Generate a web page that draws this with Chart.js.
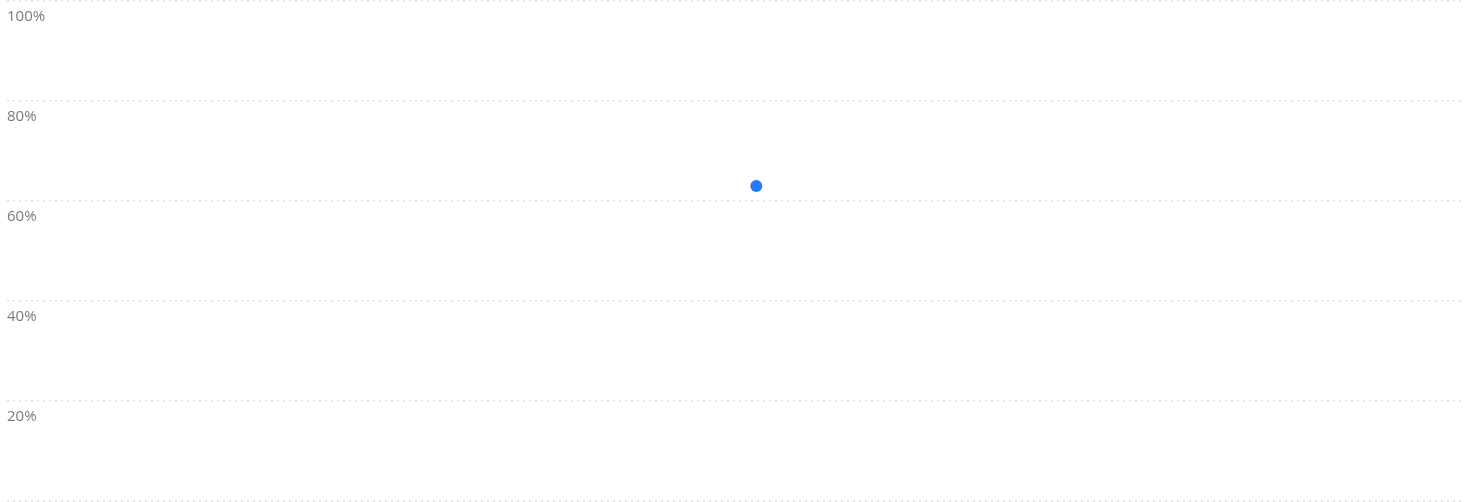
<!DOCTYPE html>
<html>
<head>
<meta charset="utf-8">
<script src="https://cdn.jsdelivr.net/npm/chart.js@4"></script>
<style>
  html, body { margin: 0; padding: 0; background: #fff; }
  #wrap { width: 1471px; height: 502px; }
</style>
</head>
<body>
<div id="wrap"><canvas id="chart"></canvas></div>
<script>
// 36 periods, only one has a value
var periods = [];
for (var i = 1; i <= 36; i++) periods.push("P" + i);
var rates = [
  null, null, null, null, null, null, null, null, null, null, null, null,
  null, null, null, null, null, null, 63, null, null, null, null, null,
  null, null, null, null, null, null, null, null, null, null, null, null
];
var yTicks = [0, 20, 40, 60, 80, 100];

var ctx = document.getElementById("chart").getContext("2d");
var chart = new Chart(ctx, {
  type: "line",
  data: {
    labels: periods,
    datasets: [
      {
        label: "Rate",
        data: rates,
        borderColor: "#2979ff",
        backgroundColor: "#2979ff",
        pointRadius: 6,
        pointBorderWidth: 0,
        borderWidth: 2,
      },
    ],
  },
  options: {
    responsive: true,
    maintainAspectRatio: false,
    animation: false,
    layout: { autoPadding: false, padding: { left: 7, right: 7, top: 1, bottom: 1 } },
    plugins: { legend: { display: false }, tooltip: { enabled: false } },
    scales: {
      x: { display: false },
      y: {
        min: yTicks[0],
        max: yTicks[yTicks.length - 1],
        border: { display: false, dash: [2, 4] },
        grid: {
          color: "#e6e6e6",
          drawTicks: false,
          lineWidth: 2,
        },
        ticks: {
          stepSize: 20,
          mirror: true,
          padding: 0,
          labelOffset: 16,
          color: "#7a7a7a",
          font: { family: "'Open Sans'", size: 15 },
          callback: function (v) { return v === 0 ? "" : v + "%"; },
        },
        afterFit: function (scale) {
          scale.paddingTop = 0;
          scale.paddingBottom = 0;
        },
      },
    },
  },
});
</script>
</body>
</html>
